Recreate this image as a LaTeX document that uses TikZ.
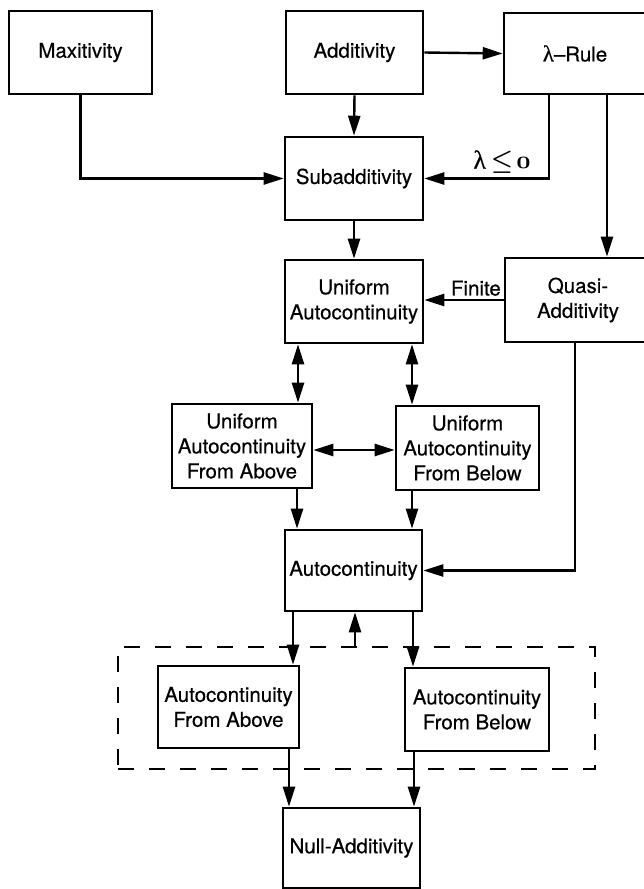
\documentclass[tikz,border=0pt]{standalone}
\usepackage{fontspec}
\setmainfont{TeX Gyre Heros}[FakeBold=0.4]
\newfontfamily\grk{Liberation Serif}[FakeBold=0.6]
\usetikzlibrary{arrows.meta}
\begin{document}
\begin{tikzpicture}[x=1pt,y=-1pt,
  box/.style={draw, line width=2.6pt, inner sep=0pt, align=center,
    font=\fontsize{20.5}{25}\selectfont},
  conn/.style={line width=2.4pt, -{Triangle[length=20pt,width=12pt]}},
  twoway/.style={line width=2.4pt,
    {Triangle[length=20pt,width=12pt]}-{Triangle[length=20pt,width=12pt]}},
  group/.style={draw, line width=2.8pt, dash pattern=on 16pt off 15pt, inner sep=0pt},
  lbl/.style={inner sep=0pt}
]
\useasboundingbox (0,0) rectangle (644,889);
\fill[white] (0,0) rectangle (644,889);

% dashed frame around the two one-sided autocontinuity notions
\node[group, minimum width=477pt, minimum height=122pt] (grp) at (356.5,708) {};

% properties
\node[box, minimum width=143pt, minimum height=83pt] (max)   at (80.5,52.5)  {Maxitivity};
\node[box, minimum width=137pt, minimum height=83pt] (add)   at (354.5,52.5) {Additivity};
\node[box, minimum width=142pt, minimum height=81pt] (lam)   at (575,53.5)   {{\grk\fontsize{23}{25}\selectfont λ}–Rule};
\node[box, minimum width=138pt, minimum height=83pt] (sub)   at (354,178.5)  {Subadditivity};
\node[box, minimum width=138pt, minimum height=83pt] (ua)    at (354,301.5)  {Uniform\\Autocontinuity};
\node[box, minimum width=146pt, minimum height=84pt] (quasi) at (578,300)    {Quasi-\\Additivity};
\node[box, minimum width=140pt, minimum height=84pt] (uafa)  at (242,446)    {Uniform\\Autocontinuity\\From Above};
\node[box, minimum width=143pt, minimum height=84pt] (uafb)  at (467.5,448)  {Uniform\\Autocontinuity\\From Below};
\node[box, minimum width=137pt, minimum height=81pt] (auto)  at (353.5,570.5) {Autocontinuity};
\node[box, minimum width=141pt, minimum height=82pt] (acfa)  at (228.5,707)  {Autocontinuity\\From Above};
\node[box, minimum width=144pt, minimum height=83pt] (acfb)  at (477,709.5)  {Autocontinuity\\From Below};
\node[box, minimum width=137pt, minimum height=80pt] (null)  at (351.5,848)  {Null-Additivity};

% condition labels
\node[lbl, font=\fontsize{26}{30}\selectfont\boldmath] (cond) at (502,162)
  {{\grk λ}$\,\leq\!\mathnormal{0}$};
\node[lbl, font=\fontsize{20.5}{25}\selectfont, anchor=south east] (fin) at (501,296) {Finite};

% implications
\draw[conn] (add.east) -- (lam.west);
\draw[conn] (add.south) -- (sub.north);
\draw[conn] (max.south) |- (sub.west);
\draw[conn] (549,0 |- lam.south) |- (sub.east);
\draw[conn] (607,0 |- lam.south) -- (607,0 |- quasi.north);
\draw[conn] (sub.south) -- (ua.north);
\draw[conn] (quasi.west) -- (quasi.west -| ua.east);
\draw[twoway] (298,0 |- ua.south) -- (298,0 |- uafa.north);
\draw[twoway] (412,0 |- ua.south) -- (412,0 |- uafb.north);
\draw[twoway] (uafa.east |- 0,450) -- (uafb.west |- 0,450);
\draw[conn] (297,0 |- uafa.south) -- (297,0 |- auto.north);
\draw[conn] (412,0 |- uafb.south) -- (412,0 |- auto.north);
\draw[conn] (575,0 |- quasi.south) |- (auto.east);
\draw[conn] (293,0 |- auto.south) -- (293,0 |- acfa.north);
\draw[conn] (413,0 |- auto.south) -- (413,0 |- acfb.north);
\draw[conn] (355,0 |- grp.north) -- (355,0 |- auto.south);
\draw[conn] (289,0 |- acfa.south) -- (289,0 |- null.north);
\draw[conn] (414,0 |- acfb.south) -- (414,0 |- null.north);
\end{tikzpicture}
\end{document}
